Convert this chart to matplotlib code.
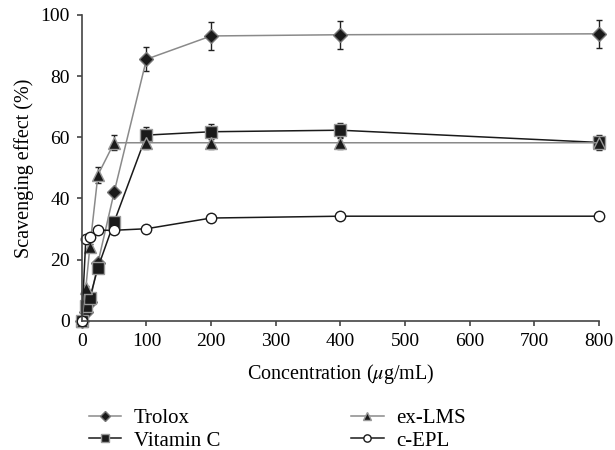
import matplotlib.pyplot as plt
from matplotlib.lines import Line2D

plt.rcParams["font.family"] = ["Liberation Serif", "DejaVu Serif"]
plt.rcParams["mathtext.fontset"] = "stix"

conc = [0, 6.25, 12.5, 25, 50, 100, 200, 400, 800]

trolox = [0, 3, 6, 19, 42, 85.5, 93.1, 93.5, 93.8]
trolox_err = [0, 0.5, 0.5, 1, 1, 4, 4.5, 4.5, 4.5]

vitc = [0, 5.0, 7.5, 17.4, 32.3, 60.7, 61.8, 62.3, 58.3]
vitc_err = [0, 0.5, 0.5, 1, 1, 2.5, 2.5, 2.5, 2.5]

exlms = [0, 10.8, 24.2, 47.7, 58.2, 58.2, 58.2, 58.2, 58.2]
exlms_err = [0, 0.5, 1, 2.5, 2.5, 2, 2, 2, 2]

cepl = [0, 26.8, 27.4, 29.6, 29.6, 30.1, 33.6, 34.2, 34.2]
cepl_err = [0, 1, 1, 1, 1, 1, 1, 1, 1]

labels = ["Trolox", "Vitamin C", "ex-LMS", "c-EPL"]
styles = [
    dict(color="#8a8a8a", marker="D", ms=7, mfc="#1a1a1a", mec="#777777"),
    dict(color="#1a1a1a", marker="s", ms=8, mfc="#1a1a1a", mec="#999999"),
    dict(color="#8a8a8a", marker="^", ms=8, mfc="#1a1a1a", mec="#999999"),
    dict(color="#1a1a1a", marker="o", ms=7.5, mfc="white", mec="#1a1a1a"),
]
series = [(trolox, trolox_err), (vitc, vitc_err), (exlms, exlms_err), (cepl, cepl_err)]

fig = plt.figure(figsize=(6.15, 4.5), dpi=100)
ax = fig.add_axes([0.133, 0.287, 0.841, 0.68])

handles = []
for (vals, err), st, lab in zip(series, styles, labels):
    c = ax.errorbar(conc, vals, yerr=err, color=st["color"], ecolor="#222222",
                    marker=st["marker"], markersize=st["ms"],
                    markerfacecolor=st["mfc"], markeredgecolor=st["mec"],
                    markeredgewidth=1, lw=1.1, capsize=2, elinewidth=1,
                    capthick=1)
    for art in c.lines[:1] + tuple(c.lines[1]) + tuple(c.lines[2]):
        art.set_clip_on(False)
    handles.append(Line2D([], [], color=st["color"], marker=st["marker"],
                          markersize=st["ms"] * 0.7, markerfacecolor=st["mfc"],
                          markeredgecolor=st["mec"], lw=1.1))

ax.set_xlim(0, 800)
ax.set_ylim(0, 100)
ax.set_xticks(range(0, 801, 100))
ax.set_yticks(range(0, 101, 20))
for s in ["top", "right"]:
    ax.spines[s].set_visible(False)
for s in ["left", "bottom"]:
    ax.spines[s].set_color("#444444")
    ax.spines[s].set_linewidth(1.2)
ax.tick_params(labelsize=14, color="#444444", length=3.5, width=1.2, pad=5)

ax.set_xlabel(r"Concentration ($\mu$g/mL)", fontsize=14.5, labelpad=9)
ax.set_ylabel("Scavenging effect (%)", fontsize=14.5, labelpad=5)

fig.legend(handles, labels, loc="upper left", bbox_to_anchor=(0.114, 0.134),
           ncol=2, frameon=False, fontsize=15, columnspacing=6.3,
           handlelength=1.55, handletextpad=0.6, labelspacing=0.15)

fig.savefig("out.png", dpi=100)
